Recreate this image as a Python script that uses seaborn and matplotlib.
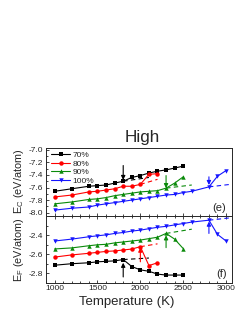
import numpy as np
import seaborn as sns
import matplotlib
matplotlib.use("Agg")
import matplotlib.pyplot as plt
from matplotlib.ticker import MultipleLocator, FixedLocator, FormatStrFormatter

# temperatures (K)
T_70 = [1000, 1200, 1400, 1500, 1600, 1700, 1800, 1900, 2000, 2100, 2200, 2300, 2400, 2500]
T_80 = [1000, 1200, 1400, 1500, 1600, 1700, 1800, 1900, 2000, 2100, 2200]
T_90 = [1000, 1200, 1400, 1500, 1600, 1700, 1800, 1900, 2000, 2100, 2200, 2300, 2400, 2500]
T_100 = [1000, 1200, 1400, 1500, 1600, 1700, 1800, 1900, 2000, 2100, 2200, 2300, 2400, 2500,
         2600, 2800, 2900, 3000]

# (e) cohesive energy E_C (eV/atom)
Ec_70 = [-7.66, -7.62, -7.58, -7.57, -7.56, -7.53, -7.50, -7.44, -7.41, -7.37, -7.34, -7.32, -7.29, -7.26]
Ec_80 = [-7.75, -7.72, -7.67, -7.66, -7.64, -7.62, -7.58, -7.58, -7.55, -7.39, -7.38]
Ec_90 = [-7.86, -7.83, -7.79, -7.78, -7.76, -7.73, -7.71, -7.69, -7.67, -7.66, -7.65, -7.61, -7.53, -7.43]
Ec_100 = [-7.96, -7.93, -7.91, -7.88, -7.86, -7.84, -7.82, -7.80, -7.78, -7.76, -7.74, -7.72, -7.71,
          -7.68, -7.66, -7.59, -7.42, -7.33]

# (f) formation energy E_F (eV/atom)
Ef_70 = [-2.716, -2.70, -2.69, -2.68, -2.675, -2.67, -2.656, -2.73, -2.765, -2.78, -2.81, -2.82, -2.82, -2.82]
Ef_80 = [-2.63, -2.607, -2.59, -2.58, -2.57, -2.565, -2.555, -2.545, -2.52, -2.72, -2.69]
Ef_90 = [-2.544, -2.533, -2.51, -2.50, -2.495, -2.48, -2.47, -2.46, -2.45, -2.435, -2.42, -2.38, -2.44, -2.54]
Ef_100 = [-2.46, -2.44, -2.415, -2.405, -2.395, -2.38, -2.37, -2.355, -2.345, -2.33, -2.315, -2.305,
          -2.29, -2.275, -2.26, -2.24, -2.39, -2.46]

labels = ["70%", "80%", "90%", "100%"]
colors = ["black", "red", "#0a8a0a", "#1515ff"]
markers = ["s", "o", "^", "v"]

# dashed linear extrapolations past the transition: (T start, T end), (E start, E end)
ext_T = [(1800, 2100), (2000, 2200), (2300, 2600), (2800, 3050)]
ext_Ec = [(-7.50, -7.44), (-7.55, -7.47), (-7.61, -7.56), (-7.59, -7.55)]
ext_Ef = [(-2.656, -2.64), (-2.52, -2.49), (-2.38, -2.335), (-2.24, -2.215)]

# arrows marking the transition temperature: T, tail, head
arr_T = [1800, 2300, 2800]
arr_Ec_tail = [-7.25, -7.41, -7.43]
arr_Ec_head = [-7.48, -7.61, -7.56]
arr_col_e = ["black", "#0a8a0a", "#1515ff"]

arr_T_f = [1800, 2000, 2300, 2800]
arr_Ef_tail = [-2.84, -2.68, -2.53, -2.38]
arr_Ef_head = [-2.69, -2.53, -2.40, -2.255]

sns.set_theme(style="ticks")
plt.rcParams["font.family"] = ["Liberation Sans", "DejaVu Sans"]

fig = plt.figure(figsize=(2.49, 3.23), dpi=100)
ax1 = fig.add_axes([0.185, 0.330, 0.747, 0.212])
ax2 = fig.add_axes([0.185, 0.125, 0.747, 0.205])

Ts = [T_70, T_80, T_90, T_100]
for ax, ys, ext in [(ax1, [Ec_70, Ec_80, Ec_90, Ec_100], ext_Ec),
                    (ax2, [Ef_70, Ef_80, Ef_90, Ef_100], ext_Ef)]:
    for i in range(4):
        sns.lineplot(x=Ts[i], y=ys[i], ax=ax, color=colors[i], marker=markers[i],
                     markersize=3.2, markeredgewidth=0, linewidth=0.8,
                     label=labels[i] if ax is ax1 else None)
        sns.lineplot(x=list(ext_T[i]), y=list(ext[i]), ax=ax, color=colors[i],
                     linestyle=(0, (4, 3)), linewidth=0.8)

for t, a, b, c in zip(arr_T, arr_Ec_tail, arr_Ec_head, arr_col_e):
    ax1.annotate("", xy=(t, b), xytext=(t, a),
                 arrowprops=dict(arrowstyle="-|>", color=c, lw=0.8, mutation_scale=6,
                                 shrinkA=0, shrinkB=0))
for t, a, b, c in zip(arr_T_f, arr_Ef_tail, arr_Ef_head, colors):
    ax2.annotate("", xy=(t, b), xytext=(t, a),
                 arrowprops=dict(arrowstyle="-|>", color=c, lw=0.8, mutation_scale=6,
                                 shrinkA=0, shrinkB=0))

for ax in (ax1, ax2):
    ax.set_xlim(900, 3070)
    ax.xaxis.set_major_locator(MultipleLocator(500))
    ax.xaxis.set_minor_locator(MultipleLocator(100))
    ax.tick_params(which="both", direction="in", labelsize=6, width=0.6, pad=2)
    ax.tick_params(which="major", length=2.5)
    ax.tick_params(which="minor", length=1.5)
    for s in ax.spines.values():
        s.set_linewidth(0.7)
    ax.set_xlabel("")
    ax.set_ylabel("")

ax1.set_ylim(-8.06, -6.97)
ax1.yaxis.set_major_locator(MultipleLocator(0.2))
ax1.yaxis.set_minor_locator(MultipleLocator(0.1))
ax1.tick_params(labelbottom=False)
ax1.yaxis.set_major_formatter(FormatStrFormatter("%.1f"))

ax2.set_ylim(-2.9, -2.2)
ax2.yaxis.set_major_locator(FixedLocator([-2.8, -2.6, -2.4]))
ax2.yaxis.set_minor_locator(FixedLocator([-2.9, -2.7, -2.5, -2.3]))
ax2.yaxis.set_major_formatter(FormatStrFormatter("%.1f"))
ax2.tick_params(top=True, which="both")

ax1.legend(loc="upper left", bbox_to_anchor=(0.0, 1.03), frameon=False, fontsize=6,
           handlelength=2.3, handletextpad=0.3, labelspacing=0.12, borderaxespad=0.2)

ax1.text(0.97, 0.05, "(e)", transform=ax1.transAxes, ha="right", va="bottom", fontsize=8)
ax2.text(0.97, 0.05, "(f)", transform=ax2.transAxes, ha="right", va="bottom", fontsize=8)

fig.text(0.570, 0.561, "High", ha="center", va="baseline", fontsize=12.3)
fig.text(0.51, 0.065, "Temperature (K)", ha="center", va="center", fontsize=9.5)
fig.text(0.075, 0.44, r"E$_\mathregular{C}$ (eV/atom)", rotation=90, ha="center", va="center", fontsize=7.8)
fig.text(0.075, 0.228, r"E$_\mathregular{F}$ (eV/atom)", rotation=90, ha="center", va="center", fontsize=7.8)

fig.savefig("out.png", dpi=100)
